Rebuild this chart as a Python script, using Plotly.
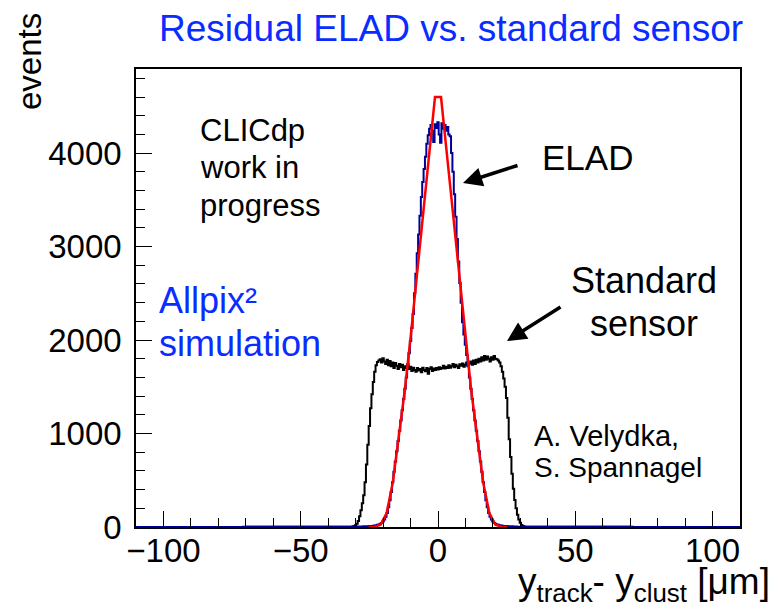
import plotly.graph_objects as go

# ---------------- data ----------------
X_RANGE = [-110, 110]
Y_RANGE = [0, 4900]
BIN_WIDTH = 0.5

# Standard sensor histogram (bin centres start at STD_FIRST_CENTER, step BIN_WIDTH)
STD_FIRST_CENTER = -32.0
std_counts = [
    3, 4, 6, 10, 18, 35, 65, 115, 180, 255, 340, 480, 670, 880, 1080, 1270, 1420, 1550, 1660, 1730, 1765,
    # plateau -21.5 .. 21.5
    1780, 1795, 1760, 1805, 1770, 1745, 1790, 1730, 1775, 1720,
    1760, 1700, 1755, 1725, 1690, 1745, 1710, 1735, 1680, 1720,
    1700, 1740, 1690, 1715, 1670, 1705, 1680, 1660, 1700, 1675,
    1690, 1655, 1705, 1680, 1665, 1700, 1640, 1690, 1710, 1670,
    1695, 1680, 1700, 1685, 1710, 1690, 1700, 1725, 1695, 1715,
    1700, 1730, 1705, 1720, 1745, 1710, 1735, 1720, 1700, 1740,
    1725, 1750, 1715, 1735, 1760, 1725, 1750, 1770, 1735, 1780,
    1745, 1790, 1760, 1800, 1770, 1815, 1780, 1830, 1790, 1825,
    1800, 1770, 1815, 1790, 1830, 1800, 1795,
    # right edge 22.0 .. 32.0
    1780, 1760, 1720, 1660, 1590, 1500, 1380, 1170, 940, 750, 570,
    410, 290, 200, 130, 80, 45, 22, 10, 5, 3,
]

# ELAD histogram
ELAD_FIRST_CENTER = -30.0
elad_counts = [
    3, 4, 4, 5, 5, 6, 7, 7, 8, 9, 10, 11, 12, 14, 16, 19, 23, 28, 34, 44,   # -30.0 .. -20.5
    58, 80, 110, 150, 210, 285, 375, 480, 590, 700,                          # -20.0 .. -15.5
    810, 920, 1030, 1140, 1250, 1370, 1480, 1600, 1730, 1860,                # -15.0 .. -10.5
    1990, 2130, 2280, 2500, 2710, 2930, 3130, 3330, 3530, 3690,              # -10.0 .. -5.5
    3830, 3960, 4100, 4190, 4260, 4300, 4240, 4120, 4310, 4270,              # -5.0 .. -0.5
    4330,                                                                    # 0.0
    4200, 4110, 4320, 4260, 4300, 4240, 4280, 4200, 4180, 4000,              # 0.5 .. 5.0
    3800, 3560, 3320, 3080, 2840, 2610, 2400, 2190, 2060, 1950,              # 5.5 .. 10.0
    1840, 1720, 1600, 1480, 1370, 1250, 1140, 1030, 920, 810,                # 10.5 .. 15.0
    700, 590, 480, 375, 285, 210, 150, 110, 80, 58,                          # 15.5 .. 20.0
    44, 34, 28, 23, 19, 16, 14, 12, 11, 10, 9, 8, 7, 7, 6, 5, 5, 4, 4, 3,   # 20.5 .. 30.0
]

# Fit curve (red)
fit_x = [-25.3, -23.1, -20.9, -18.7, -16.5, -14.3, -12.1, -9.9, -7.7, -5.5, -3.3, -1.1,
         1.1, 3.3, 5.5, 7.7, 9.9, 12.1, 14.3, 16.5, 18.7, 20.9, 23.1, 25.3]
fit_y = [0, 3, 25, 150, 470, 960, 1460, 2050, 2690, 3320, 3960, 4600,
         4600, 3960, 3320, 2690, 2050, 1460, 960, 470, 150, 25, 3, 0]

x_tick_vals = [-100, -50, 0, 50, 100]
y_tick_vals = [0, 1000, 2000, 3000, 4000]

# ---------------- figure ----------------
std_x = [STD_FIRST_CENTER + i * BIN_WIDTH for i in range(len(std_counts))]
elad_x = [ELAD_FIRST_CENTER + i * BIN_WIDTH for i in range(len(elad_counts))]

FONT = "Liberation Sans, Arial, Helvetica, sans-serif"
BLUE_TXT = "#0a2cff"

fig = go.Figure()
fig.add_trace(go.Scatter(
    x=[X_RANGE[0]] + std_x + [X_RANGE[1]], y=[0] + std_counts + [0],
    mode="lines", line=dict(color="black", width=2, shape="hvh"),
    showlegend=False, hoverinfo="skip"))
fig.add_trace(go.Scatter(
    x=[X_RANGE[0]] + elad_x + [X_RANGE[1]], y=[0] + elad_counts + [0],
    mode="lines", line=dict(color="#000099", width=2, shape="hvh"),
    showlegend=False, hoverinfo="skip"))
fig.add_trace(go.Scatter(
    x=fit_x, y=fit_y, mode="lines", line=dict(color="#ff0000", width=2.5),
    showlegend=False, hoverinfo="skip"))

W, H = 771, 604
L, R, T, B = 136, 740, 69, 527


def px(x):
    return (x - L) / (R - L)


def py(y):
    return (B - y) / (B - T)


def txt(text, x, y, size, color="black", xanchor="left", angle=0):
    return dict(text=text, x=px(x), y=py(y), xref="paper", yref="paper",
                xanchor=xanchor, yanchor="middle", showarrow=False,
                textangle=angle, font=dict(family=FONT, size=size, color=color))


def arrow(head, tail):
    return dict(text="", x=px(head[0]), y=py(head[1]), xref="paper", yref="paper",
                ax=tail[0] - head[0], ay=tail[1] - head[1], showarrow=True,
                arrowhead=2, arrowsize=1.1, arrowwidth=3.5, arrowcolor="black")


annotations = [
    txt("Residual ELAD vs. standard sensor", 451, 28, 37, BLUE_TXT, "center"),
    txt("events", 30, 62, 33, "black", "center", -90),
    txt("y<sub>track</sub>- y<sub>clust</sub> [μm]", 516, 584, 37),
    txt("CLICdp", 198, 130, 31),
    txt("work in", 198, 167, 31),
    txt("progress", 198, 205, 31),
    txt("Allpix²", 157, 300, 36, BLUE_TXT),
    txt("simulation", 157, 343, 36, BLUE_TXT),
    txt("ELAD", 540, 157, 35),
    txt("Standard", 644, 280, 36, "black", "center"),
    txt("sensor", 644, 323, 36, "black", "center"),
    txt("A. Velydka,", 532, 436, 29),
    txt("S. Spannagel", 532, 467, 28),
    arrow((463, 183), (519, 165)),
    arrow((507, 341), (562, 306)),
]

axis_common = dict(
    showgrid=False, zeroline=False, showline=True, linecolor="black", linewidth=1.5,
    mirror=True, ticks="inside", tickcolor="black", tickwidth=1, ticklen=16,
    tickfont=dict(family=FONT, size=33, color="black"),
)

fig.update_layout(
    width=W, height=H,
    margin=dict(l=L, r=W - R, t=T, b=H - B, autoexpand=False),
    plot_bgcolor="white", paper_bgcolor="white",
    xaxis=dict(range=X_RANGE, tickvals=x_tick_vals, ticklabelstandoff=-6,
               minor=dict(dtick=10, tick0=0, ticks="inside", ticklen=9,
                          tickcolor="black", tickwidth=1, showgrid=False),
               **axis_common),
    yaxis=dict(range=Y_RANGE, tickvals=y_tick_vals, ticklabelstandoff=6,
               minor=dict(dtick=200, tick0=0, ticks="inside", ticklen=9,
                          tickcolor="black", tickwidth=1, showgrid=False),
               **axis_common),
    annotations=annotations,
    showlegend=False,
)

fig.write_html(
    "out.html",
    config={"displayModeBar": False},
    post_script="document.body.style.margin='0';document.body.style.overflow='hidden';",
)
